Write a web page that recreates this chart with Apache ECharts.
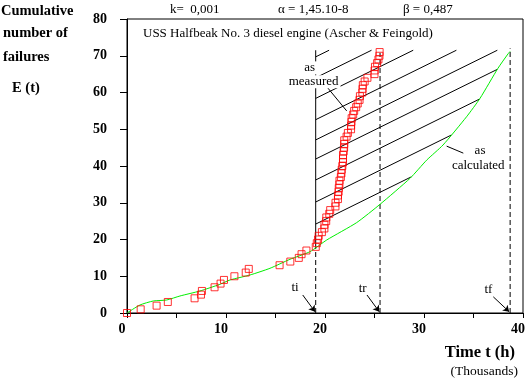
<!DOCTYPE html>
<html><head><meta charset="utf-8">
<script src="https://cdn.jsdelivr.net/npm/echarts@6/dist/echarts.min.js"></script>
<style>html,body{margin:0;padding:0;background:#fff}#c{width:532px;height:379px}</style>
</head><body><div id="c"></div>
<script>
// Measured failures (time in thousands of hours, cumulative count)
const measuredT = [0, 1.382, 2.990, 4.124, 6.827, 7.472, 7.567, 8.845, 9.450, 9.794, 10.848, 11.993, 12.300, 15.413, 16.497, 17.352, 17.632, 18.122, 19.067, 19.172, 19.299, 19.360, 19.686, 19.940, 19.944, 20.121, 20.132, 20.431, 20.525, 21.057, 21.061, 21.309, 21.310, 21.378, 21.391, 21.456, 21.461, 21.603, 21.658, 21.688, 21.750, 21.815, 21.820, 21.822, 21.888, 21.930, 21.943, 21.946, 22.181, 22.311, 22.634, 22.635, 22.669, 22.691, 22.846, 22.947, 23.149, 23.305, 23.491, 23.526, 23.774, 23.791, 23.822, 24.006, 24.286, 25.000, 25.010, 25.048, 25.268, 25.400, 25.500, 25.518];
const measuredE = [0, 1, 2, 3, 4, 5, 6, 7, 8, 9, 10, 11, 12, 13, 14, 15, 16, 17, 18, 19, 20, 21, 22, 23, 24, 25, 26, 27, 28, 29, 30, 31, 32, 33, 34, 35, 36, 37, 38, 39, 40, 41, 42, 43, 44, 45, 46, 47, 48, 49, 50, 51, 52, 53, 54, 55, 56, 57, 58, 59, 60, 61, 62, 63, 64, 65, 66, 67, 68, 69, 70, 71];
// Calculated curve
const calcT = [0, 1.31, 2.66, 4.01, 5.35, 7.37, 9.39, 10.4, 12.42, 14.44, 16.46, 18.48, 20.17, 23.2, 25.56, 28.59, 30.27, 31.92, 34.3, 35.66, 37.47, 38.48, 38.7];
const calcE = [0, 2.18, 3.27, 3.54, 4.63, 5.99, 7.81, 8.98, 10.34, 12.16, 14.61, 16.68, 19.86, 24.6, 29.58, 36.65, 41.6, 45.71, 53.4, 58.42, 66.59, 70.48, 71.2];
// Characteristic times
const tiT = 19.06, trT = 25.56, tfT = 38.7;
const tiTopE = 18, trTopE = 70.8, tfTopE = 72;
const regionTopE = 71.5;
// Hatch lines: start values on ti line and slope (count per thousand hours)
const hatchStartE = [24.2, 30.2, 36.2, 41.9, 47.1, 52.6, 58.4, 64.0, 69.7];
const hatchSlope = 1.33;
// axis ticks
const xTickLabels = ['0', '10', '20', '30', '40'];
const yTickLabels = ['0', '10', '20', '30', '40', '50', '60', '70', '80'];

const serif = '"Liberation Serif","Times New Roman",serif';

function calcAt(t) {
  for (let i = 1; i < calcT.length; i++) {
    if (t <= calcT[i]) {
      const f = (t - calcT[i-1]) / (calcT[i] - calcT[i-1]);
      return calcE[i-1] + f * (calcE[i] - calcE[i-1]);
    }
  }
  return calcE[calcE.length-1];
}
function hatchEnd(e0) {
  let tTop = tiT + (regionTopE - e0) / hatchSlope;
  let prevT = tiT, prevD = e0 - calcAt(tiT);
  const steps = 400;
  for (let k = 1; k <= steps; k++) {
    const t = tiT + (tfT - tiT) * k / steps;
    const d = e0 + hatchSlope * (t - tiT) - calcAt(t);
    if (d <= 0 && prevD > 0) {
      const tc = prevT + (t - prevT) * prevD / (prevD - d);
      if (tc < tTop) tTop = tc;
      break;
    }
    prevT = t; prevD = d;
  }
  return [tTop, e0 + hatchSlope * (tTop - tiT)];
}

const hatchSeries = hatchStartE.map(e0 => ({
  type: 'line', data: [[tiT, e0], hatchEnd(e0)], symbol: 'none', silent: true,
  lineStyle: { color: '#000', width: 1 }, z: 2, clip: false
}));

const vline = (t, e1, dashed) => ({
  type: 'line', data: [[t, 0], [t, e1]], symbol: 'none', silent: true, clip: false,
  lineStyle: { color: '#000', width: 1, type: dashed ? [5, 3] : 'solid' }, z: 2
});

// annotation texts (data coordinates)
const annTexts = [
  { t: 18.45, e: 66.7, text: 'as', bg: true },
  { t: 18.85, e: 62.9, text: 'measured', bg: true },
  { t: 35.66, e: 44.3, text: 'as', bg: false },
  { t: 35.48, e: 40.0, text: 'calculated', bg: false },
  { t: 16.97, e: 6.9, text: 'ti', bg: false },
  { t: 23.8, e: 6.7, text: 'tr', bg: false },
  { t: 36.5, e: 6.3, text: 'tf', bg: false }
];
// leader / arrow lines
const leaderLines = [
  [[20.17, 61.6], [22.19, 55.0]],
  [[32.29, 45.4], [33.97, 43.5]]
];
const arrowLines = [
  [[17.75, 4.9], [18.99, 0.35]],
  [[24.24, 4.9], [25.48, 0.35]],
  [[37.0, 4.4], [38.6, 0.35]]
];

const staticGraphic = [
  { type: 'text', x: 1, y: 11, style: { text: 'Cumulative', font: 'bold 14.5px ' + serif, fill: '#000', verticalAlign: 'middle' } },
  { type: 'text', x: 3, y: 33.5, style: { text: 'number of', font: 'bold 14.5px ' + serif, fill: '#000', verticalAlign: 'middle' } },
  { type: 'text', x: 3, y: 57.5, style: { text: 'failures', font: 'bold 14.5px ' + serif, fill: '#000', verticalAlign: 'middle' } },
  { type: 'text', x: 12, y: 88.5, style: { text: 'E (t)', font: 'bold 14.5px ' + serif, fill: '#000', verticalAlign: 'middle' } },
  { type: 'text', x: 170, y: 10, style: { text: 'k=  0,001', font: '13px ' + serif, fill: '#000', verticalAlign: 'middle' } },
  { type: 'text', x: 278, y: 10, style: { text: 'α = 1,45.10-8', font: '13px ' + serif, fill: '#000', verticalAlign: 'middle' } },
  { type: 'text', x: 403, y: 10, style: { text: 'β = 0,487', font: '13px ' + serif, fill: '#000', verticalAlign: 'middle' } },
  { type: 'text', x: 143, y: 33.5, style: { text: 'USS Halfbeak No. 3 diesel engine (Ascher & Feingold)', font: '13px ' + serif, fill: '#000', verticalAlign: 'middle' } },
  { type: 'text', x: 515, y: 353, style: { text: 'Time t (h)', font: 'bold 16.5px ' + serif, fill: '#000', align: 'right', verticalAlign: 'middle' } },
  { type: 'text', x: 518, y: 371, style: { text: '(Thousands)', font: '13.5px ' + serif, fill: '#000', align: 'right', verticalAlign: 'middle' } }
];

const chart = echarts.init(document.getElementById('c'));
chart.setOption({
  animation: false,
  backgroundColor: '#fff',
  grid: { left: 127, right: 9, top: 19, bottom: 66, show: true, borderColor: '#000', borderWidth: 1 },
  xAxis: {
    type: 'value', min: 0, max: 40, interval: 5,
    axisLine: { lineStyle: { color: '#000', width: 1 } },
    axisTick: { length: 5, lineStyle: { color: '#000' } },
    splitLine: { show: false },
    axisLabel: {
      margin: 9, color: '#000', fontFamily: serif, fontWeight: 'bold', fontSize: 14, padding: [0, 10, 0, 0],
      formatter: v => { const s = String(v); return xTickLabels.indexOf(s) >= 0 ? s : ''; }
    }
  },
  yAxis: {
    type: 'value', min: 0, max: 80, interval: 10,
    axisLine: { lineStyle: { color: '#000', width: 1 } },
    axisTick: { length: 7, lineStyle: { color: '#000' } },
    splitLine: { show: false },
    axisLabel: { margin: 20, color: '#000', fontFamily: serif, fontWeight: 'bold', fontSize: 14,
      formatter: v => { const s = String(v); return yTickLabels.indexOf(s) >= 0 ? s : ''; } }
  },
  series: [
    ...hatchSeries,
    vline(tiT, tiTopE, true),
    { type: 'line', data: [[tiT, tiTopE], [tiT, regionTopE]], symbol: 'none', silent: true,
      lineStyle: { color: '#000', width: 1 }, z: 2 },
    vline(trT, trTopE, true),
    vline(tfT, tfTopE, true),
    { type: 'line', data: calcT.map((t, i) => [t, calcE[i]]), symbol: 'none', smooth: 0.2,
      lineStyle: { color: '#00ee00', width: 1 }, z: 3 },
    { type: 'scatter', data: measuredT.map((t, i) => [t, measuredE[i]]), symbol: 'rect', symbolSize: 7, clip: false,
      itemStyle: { color: 'rgba(0,0,0,0)', borderColor: '#ff0000', borderWidth: 1 }, z: 4 },
    ...leaderLines.map(d => ({ type: 'line', data: d, symbol: 'none', silent: true,
      lineStyle: { color: '#000', width: 1 }, z: 5 })),
    { type: 'lines', coordinateSystem: 'cartesian2d', polyline: false, silent: true,
      data: arrowLines.map(c => ({ coords: c })), symbol: ['none', 'arrow'], symbolSize: 6,
      lineStyle: { color: '#000', width: 1, opacity: 1 }, z: 5 }
  ],
  graphic: staticGraphic
});

const annGraphic = annTexts.map(a => {
  const p = chart.convertToPixel({ gridIndex: 0 }, [a.t, a.e]);
  return { type: 'text', x: p[0], y: p[1], z: 100,
    style: { text: a.text, font: '13px ' + serif, fill: '#000', align: 'center', verticalAlign: 'middle',
      backgroundColor: a.bg ? '#fff' : null, padding: a.bg ? [0, 2] : 0 } };
});
chart.setOption({ graphic: staticGraphic.concat(annGraphic) });
</script></body></html>
